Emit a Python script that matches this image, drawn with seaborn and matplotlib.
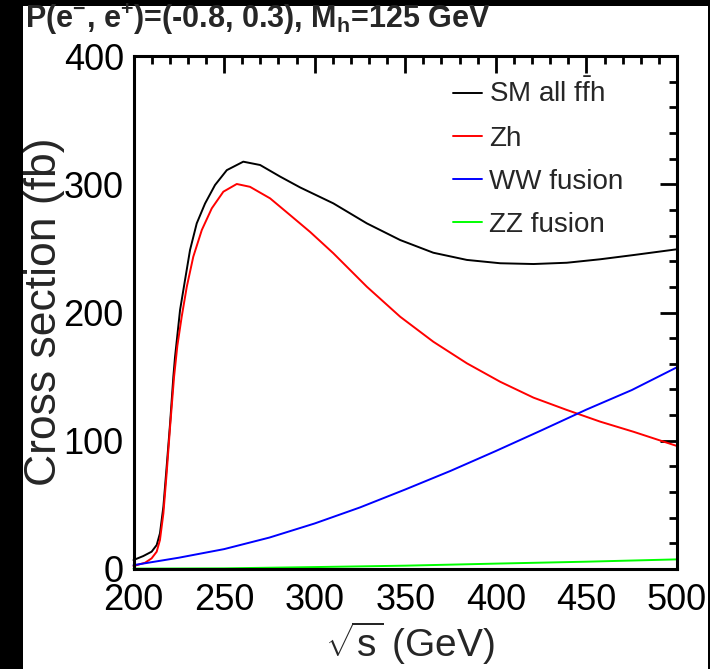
import numpy as np
import pandas as pd
import seaborn as sns
import matplotlib.pyplot as plt
from matplotlib.patches import Rectangle
from matplotlib.ticker import MultipleLocator

# Datos (sqrt(s) en GeV, sigma en fb)
x_sm = [200, 205.4, 210, 212.8, 214.6, 216.5, 218.3, 220.2, 222, 222.9, 225.7,
        228.4, 231.2, 234.9, 239.5, 245, 251.5, 260.6, 269.9, 280.9, 292,
        310.3, 328.8, 347.2, 365.5, 384, 402.4, 420.8, 439.2, 457.6, 476, 500]
y_sm = [7, 10.1, 13.5, 18.7, 27.8, 48.6, 79.8, 113.6, 150, 165, 202,
        225, 248.7, 269.5, 285, 299.4, 311, 317.6, 315, 306, 297.5,
        285.1, 269.5, 256.5, 246.6, 241, 238.4, 237.8, 238.8, 241.5, 244.8, 249.3]

x_zh = [200, 206.4, 210, 212.8, 214.6, 216.5, 218.3, 220.2, 222.4, 224.2, 226.6,
        229.4, 233, 237.7, 243.2, 249.6, 257, 264.3, 275.4, 286.4, 297.5,
        310.3, 328.8, 347.2, 365.5, 384, 402.4, 420.8, 439.2, 457.6, 476, 500]
y_zh = [2.3, 4.9, 8.3, 13.5, 22.6, 43.4, 74.6, 111, 150, 174, 196.7,
        220, 243.5, 264.3, 281.2, 294.2, 300.2, 298, 289, 276, 262.8,
        246.2, 220.1, 196.7, 177.2, 160.4, 146, 133.6, 124, 114.9, 107, 95.9]

x_ww = [200, 225, 250, 275, 300, 325, 350, 375, 400, 425, 450, 475, 500]
y_ww = [3, 8.8, 15.5, 24.5, 35.5, 48, 62, 76.5, 92, 108, 124.3, 139.5, 157.3]

x_zz = [200, 250, 300, 350, 400, 450, 500]
y_zz = [0.3, 0.5, 1.5, 2.6, 4.2, 5.7, 7.5]

etiquetas = ['SM all f$\\bar{\\mathrm{f}}$h', 'Zh', 'WW fusion', 'ZZ fusion']
colores = ['#000000', '#ff0000', '#0000ff', '#00ff00']

series = [(x_sm, y_sm), (x_zh, y_zh), (x_ww, y_ww), (x_zz, y_zz)]

sns.set_style('white')
plt.rcParams['font.family'] = ['Liberation Sans', 'DejaVu Sans']
plt.rcParams['mathtext.fontset'] = 'custom'
plt.rcParams['mathtext.rm'] = 'Liberation Sans'
plt.rcParams['mathtext.it'] = 'Liberation Sans'
plt.rcParams['mathtext.bf'] = 'Liberation Sans:bold'

W, H = 710, 669
fig = plt.figure(figsize=(W / 100, H / 100), dpi=100, facecolor='black')
fig.patches.append(Rectangle((23 / W, 0), (708 - 23) / W, (H - 6) / H,
                             transform=fig.transFigure, facecolor='white',
                             edgecolor='none', zorder=-10))

ax = fig.add_axes([133.5 / W, 100 / H, 543.5 / W, 513 / H])
ax.set_facecolor('white')

for (xs, ys), lab, col in zip(series, etiquetas, colores):
    df = pd.DataFrame({'x': xs, 'y': ys})
    sns.lineplot(data=df, x='x', y='y', color=col, linewidth=1.4, label=lab,
                 ax=ax, sort=False, clip_on=False)

ax.set_xlim(200, 500)
ax.set_ylim(0, 400)
ax.set_xticks(range(200, 501, 50))
ax.set_yticks(range(0, 401, 100))
ax.xaxis.set_minor_locator(MultipleLocator(10))
ax.yaxis.set_minor_locator(MultipleLocator(20))
ax.tick_params(which='both', direction='in', top=True, right=True, width=2,
               color='black', labelsize=26, labelcolor='black')
ax.tick_params(which='major', length=12)
ax.tick_params(axis='x', which='major', pad=10)
ax.tick_params(axis='y', which='major', pad=7)
ax.tick_params(which='minor', length=6)
for s in ax.spines.values():
    s.set_linewidth(2.2)
    s.set_color('black')
ax.set_xlabel('')
ax.set_ylabel('')

fig.text(45 / W, 1 - 312 / H, 'Cross section (fb)', rotation=90, ha='center',
         va='center', fontsize=32)
fig.text(410 / W, 1 - 643 / H, '$\\sqrt{\\mathrm{s}}$ (GeV)', ha='center',
         va='center', fontsize=28)
fig.text(25 / W, 1 - 19 / H,
         'P(e$^{\\mathbf{-}}$, e$^{\\mathbf{+}}$)=(-0.8, 0.3), M$_{\\mathbf{h}}$=125 GeV',
         ha='left', va='center', fontsize=22, fontweight='bold')

leg = ax.legend(loc='upper left', bbox_to_anchor=(0.587, 0.955), frameon=False,
                fontsize=20, borderpad=0, borderaxespad=0, handlelength=1.05,
                handletextpad=0.25, labelspacing=0.62)

plt.savefig('out.png', dpi=100, facecolor=fig.get_facecolor())
